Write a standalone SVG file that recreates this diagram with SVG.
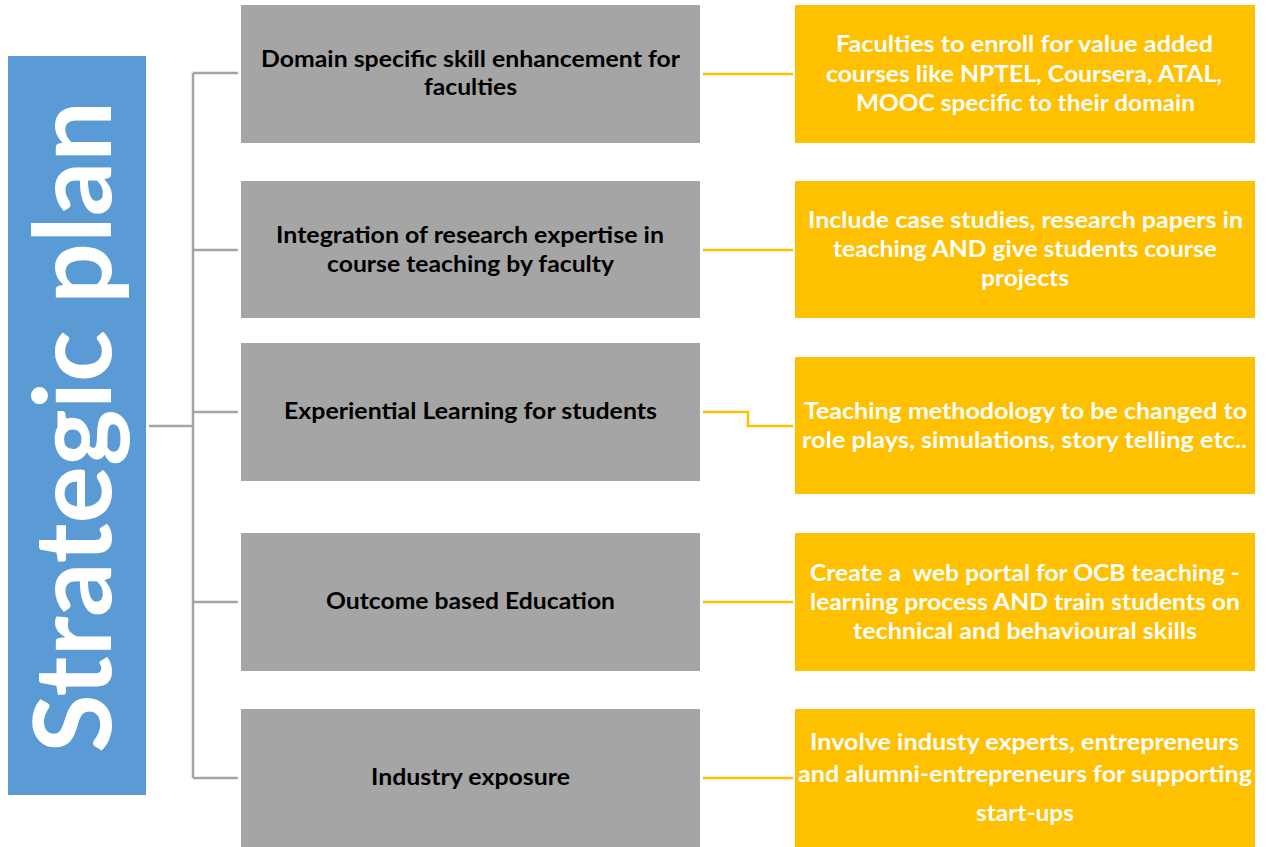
<svg xmlns="http://www.w3.org/2000/svg" width="1268" height="847" viewBox="0 0 1268 847">
<style>
.g{fill:#A5A5A5}
.y{fill:#FFC000}
.gt{font-family:Lato,"Open Sans","Liberation Sans",sans-serif;font-weight:bold;font-size:22px;fill:#000;text-anchor:middle}
.yt{font-family:Lato,"Open Sans","Liberation Sans",sans-serif;font-weight:bold;font-size:22px;fill:#fff;text-anchor:middle}
.gc{fill:none;stroke:#A5A5A5;stroke-width:2.5}
.yc{fill:none;stroke:#FFC000;stroke-width:2.5}
</style>
<rect width="1268" height="847" fill="#fff"/>
<g id="title">
<rect x="8" y="56" width="138" height="739" fill="#5B9BD5"/>
<text transform="translate(111,427) rotate(-90)" x="0" y="0" text-anchor="middle" textLength="652" lengthAdjust="spacingAndGlyphs" style="font-family:Lato,'Open Sans','Liberation Sans',sans-serif;font-weight:bold;font-size:108px;fill:#fff">Strategic plan</text>
</g>
<g id="connectors">
<path class="gc" d="M149 426H193M193 73V778M193 73H238M193 250H238M193 412H238M193 602H238M193 778H238"/>
<path class="yc" d="M703 74H793"/>
<path class="yc" d="M703 250H793"/>
<path class="yc" d="M703 412H748V426H793"/>
<path class="yc" d="M703 602H793"/>
<path class="yc" d="M703 778H793"/>
</g>
<g id="g1"><rect class="g" x="241" y="5" width="459" height="138"/>
<text class="gt" x="470.5" y="67" textLength="419" lengthAdjust="spacingAndGlyphs">Domain specific skill enhancement for</text>
<text class="gt" x="470.5" y="95" textLength="93" lengthAdjust="spacingAndGlyphs">faculties</text></g>
<g id="g2"><rect class="g" x="241" y="181" width="459" height="137"/>
<text class="gt" x="470" y="243" textLength="388" lengthAdjust="spacingAndGlyphs">Integration of research expertise in</text>
<text class="gt" x="470.5" y="272" textLength="287" lengthAdjust="spacingAndGlyphs">course teaching by faculty</text></g>
<g id="g3"><rect class="g" x="241" y="343" width="459" height="138"/>
<text class="gt" x="470.5" y="419" textLength="373" lengthAdjust="spacingAndGlyphs">Experiential Learning for students</text></g>
<g id="g4"><rect class="g" x="241" y="533" width="459" height="138"/>
<text class="gt" x="470.5" y="609" textLength="289" lengthAdjust="spacingAndGlyphs">Outcome based Education</text></g>
<g id="g5"><rect class="g" x="241" y="709" width="459" height="138"/>
<text class="gt" x="470.5" y="785" textLength="199" lengthAdjust="spacingAndGlyphs">Industry exposure</text></g>
<g id="y1"><rect class="y" x="795" y="5" width="460" height="138"/>
<text class="yt" x="1024.5" y="52" textLength="377" lengthAdjust="spacingAndGlyphs">Faculties to enroll for value added</text>
<text class="yt" x="1024" y="82" textLength="396" lengthAdjust="spacingAndGlyphs">courses like NPTEL, Coursera, ATAL,</text>
<text class="yt" x="1025.5" y="111" textLength="339" lengthAdjust="spacingAndGlyphs">MOOC specific to their domain</text></g>
<g id="y2"><rect class="y" x="795" y="181" width="460" height="137"/>
<text class="yt" x="1025.5" y="228" textLength="435" lengthAdjust="spacingAndGlyphs">Include case studies, research papers in</text>
<text class="yt" x="1025" y="257" textLength="384" lengthAdjust="spacingAndGlyphs">teaching AND give students course</text>
<text class="yt" x="1025" y="286" textLength="88" lengthAdjust="spacingAndGlyphs">projects</text></g>
<g id="y3"><rect class="y" x="795" y="357" width="460" height="137"/>
<text class="yt" x="1025.5" y="419" textLength="443" lengthAdjust="spacingAndGlyphs">Teaching methodology to be changed to</text>
<text class="yt" x="1024.5" y="448" textLength="445" lengthAdjust="spacingAndGlyphs">role plays, simulations, story telling etc..</text></g>
<g id="y4"><rect class="y" x="795" y="533" width="460" height="138"/>
<text class="yt" x="1025" y="581" textLength="430" lengthAdjust="spacingAndGlyphs" style="white-space:pre">Create a  web portal for OCB teaching -</text>
<text class="yt" x="1025" y="610" textLength="430" lengthAdjust="spacingAndGlyphs">learning process AND train students on</text>
<text class="yt" x="1025" y="639" textLength="344" lengthAdjust="spacingAndGlyphs">technical and behavioural skills</text></g>
<g id="y5"><rect class="y" x="795" y="709" width="460" height="138"/>
<text class="yt" x="1024.5" y="750" textLength="429" lengthAdjust="spacingAndGlyphs">Involve industy experts, entrepreneurs</text>
<text class="yt" x="1025" y="782" textLength="454" lengthAdjust="spacingAndGlyphs">and alumni-entrepreneurs for supporting</text>
<text class="yt" x="1025" y="821" textLength="98" lengthAdjust="spacingAndGlyphs">start-ups</text></g>
</svg>
